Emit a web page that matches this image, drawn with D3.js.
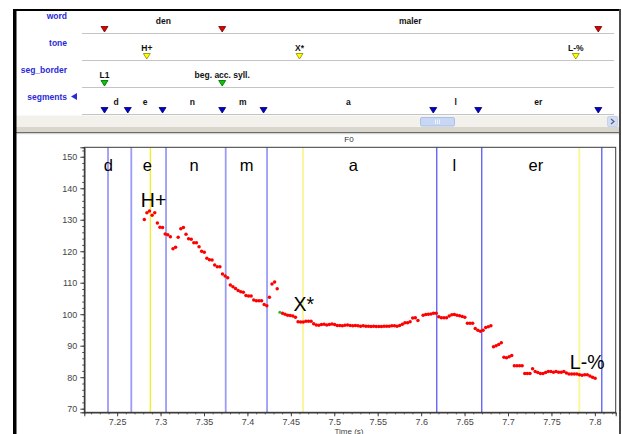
<!DOCTYPE html>
<html lang="en">
<head>
<meta charset="UTF-8">
<title>F0 – den maler</title>
<script src="https://cdnjs.cloudflare.com/ajax/libs/d3/7.8.5/d3.min.js"></script>
<style>
  body { margin: 0; background: #fff; font-family: "Liberation Sans", Arial, sans-serif; }
  svg { display: block; }
</style>
</head>
<body>
<svg width="622" height="434"></svg>
<script>
// ---- annotation tiers (times in s) ----
const wordLabels = ['den', 'maler'];
const wordBounds = [7.2395, 7.3750, 7.8080];
const toneLabels = ['H+', 'X*', 'L-%'];
const toneTimes = [7.2882, 7.4640, 7.7821];
const toneLabelHz = [134.0, 101.1, 82.5];
const segBorderLabels = ['L1', 'beg. acc. syll.'];
const segBorderTimes = [7.2395, 7.3750];
const segLabels = ['d', 'e', 'n', 'm', 'a', 'l', 'er'];
const segBounds = [7.2395, 7.2663, 7.3063, 7.3750, 7.4226, 7.6180, 7.6698, 7.8080];
const segPlotLabelTimes = [7.2398, 7.2847, 7.3385, 7.3992, 7.5219, 7.6382, 7.7320];

// ---- F0 track: one frame every 3 ms from 7.2813 s (null = no value) ----
const f0Start = 7.2813;
const f0Step = 0.003;
const f0Values = [
  130.1, 132.2, 132.8, 131.4, 132.2, 129.0, 127.6, 127.5, 125.5, 125.2,
  124.6, 120.8, 121.3, 124.4, 127.1, 127.5, 125.4, 124.0, 123.8, 122.7,
  122.7, 121.4, 120.0, 119.7, 117.8, 117.3, 117.2, 115.6, 115.1, 115.1,
  112.8, 112.1, 111.6, 109.3, 108.7, 108.2, 107.5, 107.1, 107.0, 105.9,
  105.8, 105.8, 104.5, 104.3, 104.3, 104.3, 103.1, 102.7, 105.4, 109.6,
  110.2, 108.1, null, 100.3, 100.0, 99.7, 99.6, 99.4, 99.0, 97.6,
  97.5, 97.5, 97.8, 97.8, 97.8, 97.0, 96.6, 96.5, 96.7, 96.8,
  96.6, 96.7, 96.9, 96.7, 96.4, 96.4, 96.3, 96.5, 96.6, 96.4,
  96.3, 96.4, 96.3, 96.2, 96.3, 96.2, 96.2, 96.1, 96.2, 96.1,
  96.1, 96.1, 96.2, 96.2, 96.2, 96.3, 96.3, 96.2, 96.4, 96.8,
  97.3, 97.3, 97.6, 98.8, 98.9, 98.0, null, 99.7, 99.9, 100.0,
  100.1, 100.3, 100.3, 99.2, 98.9, 98.9, 98.9, 99.4, 99.8, 99.9,
  99.7, 99.5, 99.3, 99.0, 97.1, 97.1, 97.1, 95.5, 94.9, 94.6,
  94.9, 95.8, 96.0, 96.3, 89.7, 90.0, 90.4, 90.9, 86.3, 86.2,
  86.5, 86.9, 83.6, 83.6, 83.6, 83.6, 81.2, 81.2, 81.2, 82.7,
  81.8, 81.5, 81.2, 81.2, 81.5, 81.8, 81.8, 81.6, 81.8, 81.6,
  81.6, 81.8, 81.3, 81.0, 81.0, 81.0, 81.0, 80.8, 80.6, 80.8,
  80.8, 80.4, 80.0, 79.7
];
const greenT = [7.4373];
const greenHz = [100.6];

const yTicks = [70, 80, 90, 100, 110, 120, 130, 140, 150];
const xTicks = [7.25, 7.3, 7.35, 7.4, 7.45, 7.5, 7.55, 7.6, 7.65, 7.7, 7.75, 7.8];

const f0 = f0Values
  .map((v, i) => ({ t: f0Start + i * f0Step, hz: v }))
  .filter(d => d.hz !== null);

// ---- layout ----
const plot = { left: 84.3, right: 615.7, top: 147.3, bottom: 412.3 };
const xDomain = [7.2122, 7.8240];

const svg = d3.select('svg');

const x = d3.scaleLinear().domain(xDomain).range([plot.left, plot.right]);
const y = d3.scaleLinear().domain([68.85, 153.0]).range([plot.bottom, plot.top]);
const xTop = d3.scaleLinear().domain(xDomain).range([plot.left - 3.5, plot.right - 3.5]);

// window background
svg.append('rect').attr('x', 13).attr('y', 9).attr('width', 607).attr('height', 425).attr('fill', '#fff');

// ---- top panel: tiers ----
const tiers = [
  { name: 'word', line: 33.5, fill: '#dd0000', stroke: '#700000' },
  { name: 'tone', line: 60.5, fill: '#ffff00', stroke: '#8a8a00' },
  { name: 'seg_border', line: 87.5, fill: '#00cc00', stroke: '#006000' },
  { name: 'segments', line: 114.5, fill: '#0000cc', stroke: '#000060' }
];

const tierPanel = svg.append('g');

tierPanel.selectAll('.tier-line')
  .data(tiers)
  .join('line')
    .attr('x1', 82).attr('x2', 614)
    .attr('y1', d => d.line).attr('y2', d => d.line)
    .attr('stroke', '#c4c4c4');

tierPanel.selectAll('.tier-name')
  .data(tiers)
  .join('text')
    .attr('x', 67)
    .attr('y', d => d.line - 15)
    .attr('text-anchor', 'end')
    .attr('font-size', 8.5)
    .attr('font-weight', 'bold')
    .attr('fill', '#2a2ad8')
    .text(d => d.name);

// little arrow after "segments"
tierPanel.append('path')
  .attr('d', `M71,${tiers[3].line - 18} L77,${tiers[3].line - 21.5} L77,${tiers[3].line - 14.5} Z`)
  .attr('fill', '#2a2ad8');

function marker(g, t, tier) {
  const cx = xTop(t), b = tier.line - 1.5;
  g.append('path')
    .attr('d', `M${cx - 3.5},${b - 5.5} L${cx + 3.5},${b - 5.5} L${cx},${b} Z`)
    .attr('fill', tier.fill)
    .attr('stroke', tier.stroke)
    .attr('stroke-width', 0.8);
}

function tierText(g, xpos, tier, label) {
  g.append('text')
    .attr('x', xpos)
    .attr('y', tier.line - 10)
    .attr('text-anchor', 'middle')
    .attr('font-size', 8.5)
    .attr('font-weight', 'bold')
    .attr('fill', '#111')
    .text(label);
}

// word tier
wordBounds.forEach(t => marker(tierPanel, t, tiers[0]));
wordLabels.forEach((w, i) => tierText(tierPanel, (xTop(wordBounds[i]) + xTop(wordBounds[i + 1])) / 2, tiers[0], w));

// tone tier
toneTimes.forEach((t, i) => {
  marker(tierPanel, t, tiers[1]);
  tierText(tierPanel, xTop(t), tiers[1], toneLabels[i]);
});

// seg_border tier
segBorderTimes.forEach((t, i) => {
  marker(tierPanel, t, tiers[2]);
  tierText(tierPanel, xTop(t), tiers[2], segBorderLabels[i]);
});

// segments tier
segBounds.forEach(t => marker(tierPanel, t, tiers[3]));
segLabels.forEach((s, i) => tierText(tierPanel, (xTop(segBounds[i]) + xTop(segBounds[i + 1])) / 2, tiers[3], s));

// scrollbar
svg.append('rect').attr('x', 16).attr('y', 115.5).attr('width', 603).attr('height', 11.5).attr('fill', '#f2f1ec');
svg.append('rect').attr('x', 420.5).attr('y', 117.5).attr('width', 34).attr('height', 8.5).attr('rx', 1.5)
  .attr('fill', '#c8d7f4').attr('stroke', '#9fb6e6').attr('stroke-width', 0.8);
svg.append('g').selectAll('line').data([-2, 0, 2]).join('line')
  .attr('x1', d => 437.5 + d).attr('x2', d => 437.5 + d)
  .attr('y1', 119.5).attr('y2', 124)
  .attr('stroke', '#eef3ff').attr('stroke-width', 1);
svg.append('rect').attr('x', 607.5).attr('y', 116.5).attr('width', 10).attr('height', 10).attr('rx', 1.5)
  .attr('fill', '#d3def5').attr('stroke', '#b4c4e6').attr('stroke-width', 0.6);
svg.append('path').attr('d', 'M611,119 L614,121.5 L611,124').attr('fill', 'none')
  .attr('stroke', '#4d6185').attr('stroke-width', 1.2);

// splitter
svg.append('rect').attr('x', 16).attr('y', 127).attr('width', 603).attr('height', 5).attr('fill', '#d9d6cd');
svg.append('rect').attr('x', 16).attr('y', 132).attr('width', 603).attr('height', 1.2).attr('fill', '#6c6c6c');
svg.append('rect').attr('x', 16).attr('y', 133.2).attr('width', 603).attr('height', 1).attr('fill', '#cfcfcf');

// ---- F0 plot ----
svg.append('text')
  .attr('x', 349).attr('y', 142)
  .attr('text-anchor', 'middle')
  .attr('font-size', 8)
  .attr('fill', '#333')
  .text('F0');

svg.append('rect')
  .attr('x', plot.left).attr('y', plot.top)
  .attr('width', plot.right - plot.left).attr('height', plot.bottom - plot.top)
  .attr('fill', '#fff');

const inner = svg.append('g');

// segment boundaries
inner.selectAll('.seg-line')
  .data(segBounds)
  .join('line')
    .attr('x1', d => x(d)).attr('x2', d => x(d))
    .attr('y1', plot.top).attr('y2', plot.bottom)
    .attr('stroke', (d, i) => i < 5 ? '#9a9cf6' : '#4b4bf5')
    .attr('stroke-width', (d, i) => i < 5 ? 1.8 : 1.2);

// tone lines
inner.selectAll('.tone-line')
  .data(toneTimes)
  .join('line')
    .attr('x1', d => x(d)).attr('x2', d => x(d))
    .attr('y1', plot.top).attr('y2', plot.bottom)
    .attr('stroke', (d, i) => i === 0 ? '#f2ee10' : '#fbf592')
    .attr('stroke-width', (d, i) => i === 0 ? 1.2 : 1.8);

// segment labels
inner.selectAll('.seg-label')
  .data(segLabels)
  .join('text')
    .attr('x', (d, i) => x(segPlotLabelTimes[i]))
    .attr('y', 170.5)
    .attr('text-anchor', 'middle')
    .attr('font-size', 16.5)
    .attr('fill', '#000')
    .text(d => d);

// tone labels
inner.selectAll('.tone-label')
  .data(toneLabels)
  .join('text')
    .attr('x', (d, i) => x(toneTimes[i]) - 9.5)
    .attr('y', (d, i) => y(toneLabelHz[i]))
    .attr('font-size', 19.5)
    .attr('fill', '#000')
    .text(d => d);

// F0 dots
inner.selectAll('.dot')
  .data(f0)
  .join('circle')
    .attr('cx', d => x(d.t))
    .attr('cy', d => y(d.hz))
    .attr('r', 1.75)
    .attr('fill', '#ff0000');

inner.selectAll('.gdot')
  .data(greenT)
  .join('circle')
    .attr('cx', d => x(d))
    .attr('cy', (d, i) => y(greenHz[i]))
    .attr('r', 1.5)
    .attr('fill', '#22bb22');

// frame
svg.append('rect')
  .attr('x', plot.left).attr('y', plot.top)
  .attr('width', plot.right - plot.left).attr('height', plot.bottom - plot.top)
  .attr('fill', 'none')
  .attr('stroke', '#3a3a3a')
  .attr('stroke-width', 1);

// axes
svg.append('g')
  .attr('transform', `translate(${plot.left},0)`)
  .call(d3.axisLeft(y).tickValues(yTicks).tickSize(4).tickPadding(3).tickFormat(d3.format('d')));
svg.append('g')
  .attr('transform', `translate(${plot.left},0)`)
  .call(d3.axisLeft(y).tickValues(d3.range(70, 153, 2)).tickSize(2).tickFormat(''));

svg.append('g')
  .attr('transform', `translate(0,${plot.bottom})`)
  .call(d3.axisBottom(x).tickValues(xTicks).tickSize(4).tickPadding(2.5).tickFormat(d => String(+d.toFixed(2))));
svg.append('g')
  .attr('transform', `translate(0,${plot.bottom})`)
  .call(d3.axisBottom(x).tickValues(d3.range(7.22, 7.825, 0.01)).tickSize(2).tickFormat(''));

svg.selectAll('.domain').attr('stroke', '#3a3a3a');
svg.selectAll('.tick line').attr('stroke', '#444');
svg.selectAll('.tick text')
  .attr('font-family', '"Liberation Sans", Arial, sans-serif')
  .attr('font-size', 9)
  .attr('fill', '#444');

svg.append('text')
  .attr('x', 349).attr('y', 433.5)
  .attr('text-anchor', 'middle')
  .attr('font-size', 8)
  .attr('fill', '#444')
  .text('Time (s)');

// outer window border
svg.append('rect').attr('x', 13).attr('y', 9).attr('width', 607).attr('height', 2).attr('fill', '#000');
svg.append('rect').attr('x', 13).attr('y', 9).attr('width', 3.5).attr('height', 425).attr('fill', '#000');
svg.append('rect').attr('x', 619).attr('y', 9).attr('width', 2).attr('height', 425).attr('fill', '#4a4a4a');
</script>
</body>
</html>
